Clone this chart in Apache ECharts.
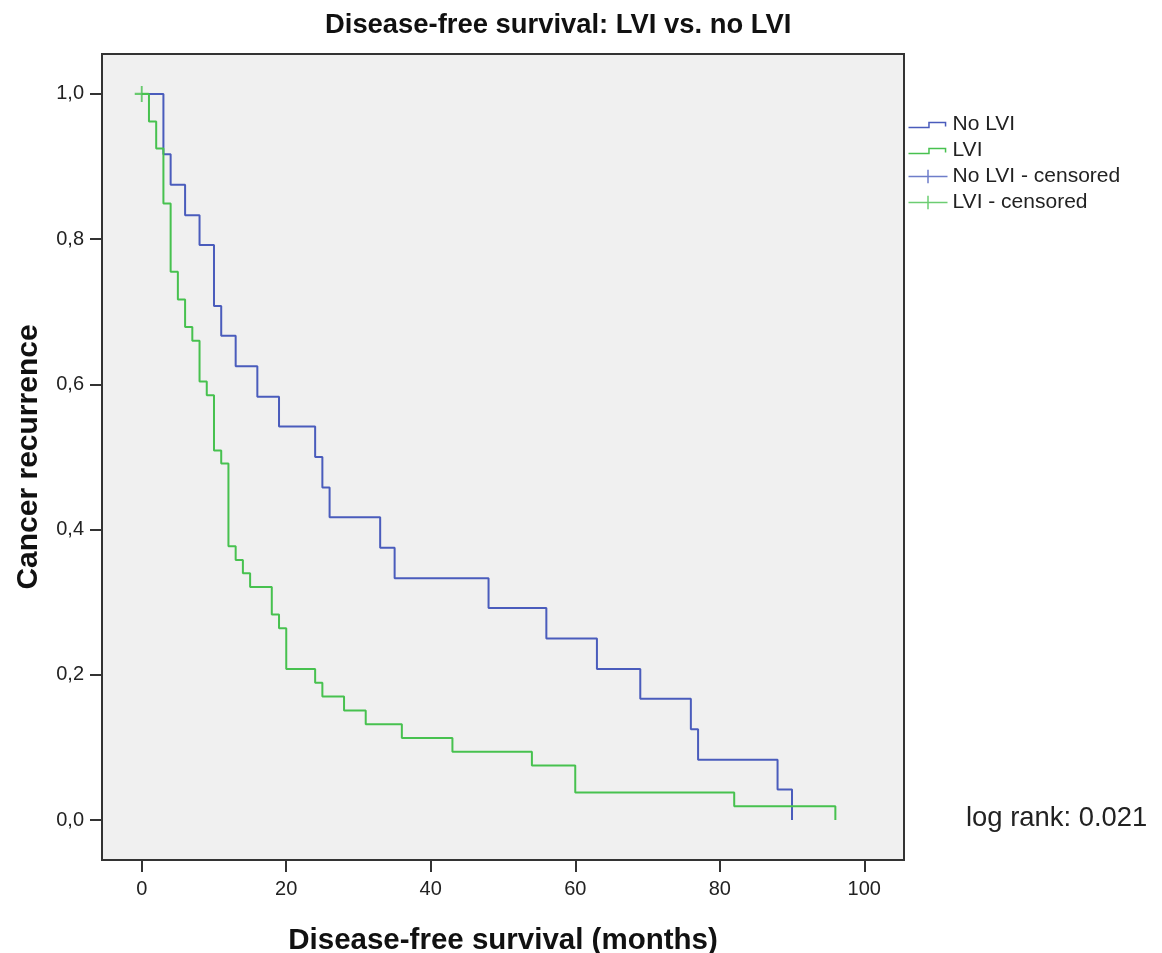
<!DOCTYPE html>
<html>
<head>
<meta charset="utf-8">
<script src="https://cdn.jsdelivr.net/npm/echarts@6/dist/echarts.min.js"></script>
<style>
  html, body { margin: 0; padding: 0; background: #fff; }
  #chart { width: 1162px; height: 953px; }
</style>
</head>
<body>
<div id="chart"></div>
<script>
  // months at which each curve steps down, and the survival value after the step
  var noLviMonths = [0, 3, 4, 6, 8, 10, 11, 13, 16, 19, 24, 25, 26, 33, 35, 48, 56, 63, 69, 76, 77, 88, 90];
  var noLviValues = [1.0, 0.917, 0.875, 0.833, 0.792, 0.708, 0.667, 0.625, 0.583, 0.542, 0.500, 0.458, 0.417,
                     0.375, 0.333, 0.292, 0.250, 0.208, 0.167, 0.125, 0.083, 0.042, 0.0];
  var lviMonths = [0, 1, 2, 3, 4, 5, 6, 7, 8, 9, 10, 11, 12, 13, 14, 15, 18, 19, 20, 24, 25, 28, 31, 36, 43, 54, 60, 82, 96];
  var lviValues = [1.0, 0.962, 0.925, 0.849, 0.755, 0.717, 0.679, 0.660, 0.604, 0.585, 0.509, 0.491, 0.377,
                   0.358, 0.340, 0.321, 0.283, 0.264, 0.208, 0.189, 0.170, 0.151, 0.132, 0.113, 0.094,
                   0.075, 0.038, 0.019, 0.0];
  // censored observations
  var noLviCensMonths = [];
  var noLviCensValues = [];
  var lviCensMonths = [0];
  var lviCensValues = [1.0];
  // ticks
  var xTicks = [0, 20, 40, 60, 80, 100];
  var yTicks = [0, 0.2, 0.4, 0.6, 0.8, 1.0];

  var BLUE = '#4a5cbc';
  var GREEN = '#47c14f';
  var FONT = "'Liberation Sans', Arial, sans-serif";
  var STEP_ICON = 'path://M0,0 M40,14 M0,10 L21,10 L21,5 L38,5 L38,9';
  var CENS_ICON = 'path://M0,7 L40,7 M20,0 L20,14';
  var PLUS = 'path://M0,8 L14,8 M7,0 L7,16';

  function pairs(xs, ys) {
    return xs.map(function (x, i) { return [x, ys[i]]; });
  }

  var chart = echarts.init(document.getElementById('chart'), null, { renderer: 'canvas' });
  chart.setOption({
    animation: false,
    backgroundColor: '#fff',
    textStyle: { fontFamily: FONT },
    title: {
      text: 'Disease-free survival: LVI vs. no LVI',
      left: 325, top: 12, padding: 0,
      textStyle: { fontFamily: FONT, fontSize: 27.4, fontWeight: 'bold', color: '#111' }
    },
    grid: {
      left: 102, top: 54, right: 258, bottom: 93,
      outerBoundsMode: 'none', containLabel: false,
      show: true, backgroundColor: '#f0f0f0', borderColor: '#333', borderWidth: 2
    },
    legend: {
      orient: 'vertical', left: 906, top: 114, padding: 0,
      itemWidth: 39, itemHeight: 14, itemGap: 5,
      textStyle: { fontFamily: FONT, fontSize: 21, color: '#222' },
      selectedMode: false,
      data: [
        { name: 'No LVI', icon: STEP_ICON, itemStyle: { color: 'none', borderColor: BLUE, borderWidth: 1.5 } },
        { name: 'LVI', icon: STEP_ICON, itemStyle: { color: 'none', borderColor: GREEN, borderWidth: 1.5 } },
        { name: 'No LVI - censored', icon: CENS_ICON, itemStyle: { color: 'none', borderColor: BLUE, borderWidth: 1.5 } },
        { name: 'LVI - censored', icon: CENS_ICON, itemStyle: { color: 'none', borderColor: GREEN, borderWidth: 1.5 } }
      ]
    },
    xAxis: {
      type: 'value', min: -5.5, max: 105.5, position: 'bottom',
      name: 'Disease-free survival (months)', nameLocation: 'middle', nameGap: 66,
      nameTextStyle: { fontFamily: FONT, fontSize: 29.5, fontWeight: 'bold', color: '#111' },
      axisLine: { show: false, onZero: false },
      axisTick: { show: true, inside: false, length: 12, customValues: xTicks, lineStyle: { color: '#333', width: 2 } },
      axisLabel: { customValues: xTicks, margin: 19, fontFamily: FONT, fontSize: 20, color: '#222' },
      splitLine: { show: false }
    },
    yAxis: {
      type: 'value', min: -0.055, max: 1.055, position: 'left',
      name: 'Cancer recurrence', nameLocation: 'middle', nameGap: 58, nameRotate: 90,
      nameTextStyle: { fontFamily: FONT, fontSize: 30, fontWeight: 'bold', color: '#111' },
      axisLine: { show: false, onZero: false },
      axisTick: { show: true, inside: false, length: 12, customValues: yTicks, lineStyle: { color: '#333', width: 2 } },
      axisLabel: {
        customValues: yTicks, margin: 18, fontFamily: FONT, fontSize: 20, color: '#222',
        formatter: function (v) { return v.toFixed(1).replace('.', ','); }
      },
      splitLine: { show: false }
    },
    graphic: [{
      type: 'text', left: 966, top: 805,
      style: { text: 'log rank: 0.021', fontFamily: FONT, fontSize: 27.4, fill: '#222' }
    }],
    series: [
      {
        name: 'No LVI', type: 'line', step: 'end', showSymbol: false, z: 3,
        lineStyle: { color: BLUE, width: 2 }, itemStyle: { color: BLUE },
        data: pairs(noLviMonths, noLviValues)
      },
      {
        name: 'LVI', type: 'line', step: 'end', showSymbol: false, z: 3,
        lineStyle: { color: GREEN, width: 2 }, itemStyle: { color: GREEN },
        data: pairs(lviMonths, lviValues)
      },
      {
        name: 'No LVI - censored', type: 'scatter', symbol: PLUS, symbolSize: [14, 16], z: 4,
        itemStyle: { color: 'none', borderColor: BLUE, borderWidth: 2 },
        data: pairs(noLviCensMonths, noLviCensValues)
      },
      {
        name: 'LVI - censored', type: 'scatter', symbol: PLUS, symbolSize: [14, 16], z: 4,
        itemStyle: { color: 'none', borderColor: GREEN, borderWidth: 2 },
        data: pairs(lviCensMonths, lviCensValues)
      }
    ]
  });
</script>
</body>
</html>
